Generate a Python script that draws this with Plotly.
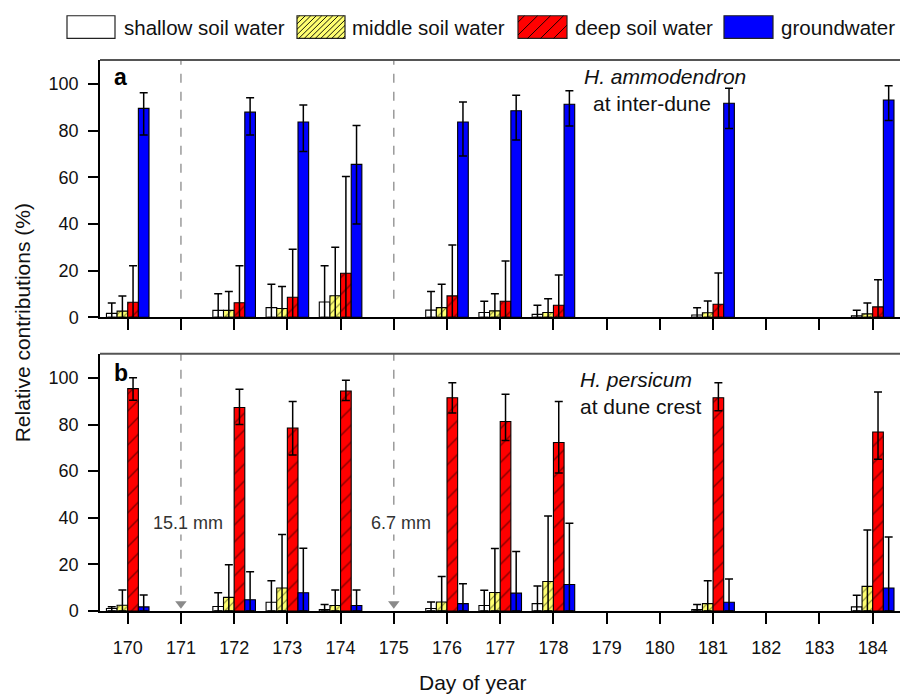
import plotly.graph_objects as go

# ---------------- data ----------------
days = [170, 172, 173, 174, 176, 177, 178, 181, 184]
tick_days = list(range(170, 185))
y_ticks = [0, 20, 40, 60, 80, 100]
sources = ["shallow soil water", "middle soil water", "deep soil water", "groundwater"]

# Panel a: H. ammodendron at inter-dune (mean, upper, lower bound)
a_shallow = [1.7, 3.0, 4.2, 6.6, 3.1, 2.1, 1.3, 1.0, 0.7]
a_shallow_hi = [6.2, 10.1, 14.2, 22.1, 11.1, 6.9, 5.2, 4.1, 3.1]
a_shallow_lo = [0, 0, 0, 0, 0, 0, 0, 0, 0]
a_middle = [2.7, 3.0, 3.8, 9.3, 4.2, 2.8, 2.1, 2.0, 1.5]
a_middle_hi = [9.2, 11.1, 13.2, 30.1, 14.2, 10.1, 8.0, 7.0, 6.2]
a_middle_lo = [0, 0, 0, 0, 0, 0, 0, 0, 0]
a_deep = [6.5, 6.3, 8.6, 18.9, 9.2, 6.9, 5.2, 5.6, 4.5]
a_deep_hi = [22.1, 22.1, 29.2, 60.4, 31.0, 24.2, 18.2, 19.0, 16.1]
a_deep_lo = [0, 0, 0, 0, 0, 0, 0, 0, 0]
a_gw = [89.6, 88.0, 83.8, 65.6, 83.8, 88.6, 91.4, 91.8, 93.2]
a_gw_hi = [96.3, 94.2, 91.1, 82.3, 92.3, 95.2, 97.2, 98.2, 99.3]
a_gw_lo = [78.2, 78.2, 71.1, 40.0, 69.2, 76.1, 82.0, 81.0, 84.4]

# Panel b: H. persicum at dune crest
b_shallow = [1.1, 2.0, 3.8, 0.7, 1.1, 2.4, 3.2, 0.7, 1.8]
b_shallow_hi = [1.9, 7.9, 13.0, 2.8, 3.9, 8.9, 10.8, 2.8, 6.8]
b_shallow_lo = [0, 0, 0, 0, 0, 0, 0, 0, 0]
b_middle = [2.5, 5.9, 9.9, 2.4, 3.9, 8.0, 12.7, 3.2, 10.6]
b_middle_hi = [9.0, 19.9, 32.8, 9.0, 14.8, 26.8, 40.8, 13.0, 34.8]
b_middle_lo = [0, 0, 0, 0, 0, 0, 0, 0, 0]
b_deep = [95.4, 87.3, 78.5, 94.4, 91.5, 81.3, 72.3, 91.5, 76.8]
b_deep_hi = [100.0, 95.1, 89.9, 99.0, 97.9, 93.0, 89.9, 97.9, 93.9]
b_deep_lo = [90.4, 80.0, 66.9, 90.3, 84.9, 73.2, 59.2, 85.9, 65.1]
b_gw = [1.8, 4.9, 7.9, 2.4, 3.2, 7.7, 11.4, 3.8, 9.9]
b_gw_hi = [6.9, 16.9, 26.9, 9.0, 11.7, 25.6, 37.7, 13.8, 31.8]
b_gw_lo = [0, 0, 0, 0, 0, 0, 0, 0, 0]

# Rain events
rain_days = [171, 175]
rain_labels = ["15.1 mm", "6.7 mm"]

# ---------------- style ----------------
W, H = 900, 697
FONT = "Liberation Sans, Arial, sans-serif"
YMAX = 110.3


def px(x):
    return x / W


def py(y):
    return 1 - y / H


styles = {
    "shallow soil water": dict(color="white", pattern=None),
    "middle soil water": dict(color="#FFFF70", pattern=dict(shape="/", fgcolor="black", size=6, solidity=0.18)),
    "deep soil water": dict(color="#FF0000", pattern=dict(shape="/", fgcolor="black", size=12, solidity=0.11)),
    "groundwater": dict(color="#0000FF", pattern=None),
}

panel_a = {
    "shallow soil water": (a_shallow, a_shallow_hi, a_shallow_lo),
    "middle soil water": (a_middle, a_middle_hi, a_middle_lo),
    "deep soil water": (a_deep, a_deep_hi, a_deep_lo),
    "groundwater": (a_gw, a_gw_hi, a_gw_lo),
}
panel_b = {
    "shallow soil water": (b_shallow, b_shallow_hi, b_shallow_lo),
    "middle soil water": (b_middle, b_middle_hi, b_middle_lo),
    "deep soil water": (b_deep, b_deep_hi, b_deep_lo),
    "groundwater": (b_gw, b_gw_hi, b_gw_lo),
}

fig = go.Figure()

for panel, xa, ya in [(panel_a, "x", "y"), (panel_b, "x2", "y2")]:
    for name in sources:
        v, hi, lo = panel[name]
        st = styles[name]
        marker = dict(color=st["color"], line=dict(color="black", width=1.1))
        if st["pattern"] is not None:
            marker["pattern"] = st["pattern"]
        fig.add_trace(go.Bar(
            x=days, y=v, name=name, xaxis=xa, yaxis=ya,
            marker=marker, showlegend=False,
            error_y=dict(type="data", symmetric=False,
                         array=[h - m for h, m in zip(hi, v)],
                         arrayminus=[m - l for m, l in zip(v, lo)],
                         color="black", thickness=1.5, width=4),
        ))

# rain triangles (panel b)
fig.add_trace(go.Scatter(
    x=rain_days, y=[3.2] * len(rain_days), xaxis="x2", yaxis="y2",
    mode="markers", marker=dict(symbol="triangle-down", size=10, color="#8a8a8a"),
    showlegend=False, hoverinfo="skip"))

shapes = []
annotations = []

# dashed rain lines
for d in rain_days:
    shapes.append(dict(type="line", xref="x", yref="y", x0=d, x1=d, y0=8, y1=YMAX,
                       line=dict(color="#9a9a9a", width=1.5, dash="dash"), layer="below"))
    shapes.append(dict(type="line", xref="x2", yref="y2", x0=d, x1=d, y0=7, y1=YMAX,
                       line=dict(color="#9a9a9a", width=1.5, dash="dash"), layer="below"))
for d, lab in zip(rain_days, rain_labels):
    annotations.append(dict(x=d, y=37.6, xref="x2", yref="y2", text=lab, showarrow=False,
                            xshift=7, bgcolor="white", font=dict(family=FONT, size=18, color="#333333")))

# top borders
for xr, yr in [("x domain", "y domain"), ("x2 domain", "y2 domain")]:
    shapes.append(dict(type="line", xref=xr, yref=yr, x0=0, x1=1, y0=1, y1=1,
                       line=dict(color="#555555", width=2)))

# panel labels & text
annotations += [
    dict(x=px(112), y=py(78), xref="paper", yref="paper", text="<b>a</b>", showarrow=False,
         xanchor="left", yanchor="middle", font=dict(family=FONT, size=23, color="black")),
    dict(x=px(112), y=py(378), xref="paper", yref="paper", text="<b>b</b>", showarrow=False,
         xanchor="left", yanchor="middle", font=dict(family=FONT, size=23, color="black")),
    dict(x=px(665), y=py(78), xref="paper", yref="paper", text="<i>H. ammodendron</i>", showarrow=False,
         xanchor="center", yanchor="middle", font=dict(family=FONT, size=21, color="#111")),
    dict(x=px(652), y=py(105), xref="paper", yref="paper", text="at inter-dune", showarrow=False,
         xanchor="center", yanchor="middle", font=dict(family=FONT, size=21, color="#111")),
    dict(x=px(578), y=py(385), xref="paper", yref="paper", text="<i>H. persicum</i>", showarrow=False,
         xanchor="left", yanchor="middle", font=dict(family=FONT, size=21, color="#111")),
    dict(x=px(578), y=py(412), xref="paper", yref="paper", text="at dune crest", showarrow=False,
         xanchor="left", yanchor="middle", font=dict(family=FONT, size=21, color="#111")),
    dict(x=px(22), y=py(328), xref="paper", yref="paper", text="Relative contributions (%)",
         showarrow=False, textangle=-90, xanchor="center", yanchor="middle",
         font=dict(family=FONT, size=21, color="#111")),
    dict(x=px(472), y=py(692), xref="paper", yref="paper", text="Day of year", showarrow=False,
         xanchor="center", yanchor="middle", font=dict(family=FONT, size=21, color="#111")),
]

# manual legend
legend_boxes = [(67, 115), (297, 345), (518, 567), (724, 773)]
legend_text_x = [122, 350, 573, 779]
ly0, ly1 = 16, 39
hatch_spacing = {"middle soil water": 5.5, "deep soil water": 13}
for name, (bx0, bx1), tx in zip(sources, legend_boxes, legend_text_x):
    st = styles[name]
    shapes.append(dict(type="rect", xref="paper", yref="paper", x0=px(bx0), x1=px(bx1),
                       y0=py(ly1), y1=py(ly0), fillcolor=st["color"],
                       line=dict(color="#222", width=1.2)))
    if name in hatch_spacing:
        s = hatch_spacing[name]
        c = bx0 + ly0 + s / 2
        path = ""
        while c < bx1 + ly1:
            xs = max(bx0, c - ly1)
            xe = min(bx1, c - ly0)
            if xe > xs:
                path += f"M{px(xs)},{py(c - xs)} L{px(xe)},{py(c - xe)} "
            c += s
        shapes.append(dict(type="path", xref="paper", yref="paper", path=path,
                           line=dict(color="black", width=0.9)))
    annotations.append(dict(x=px(tx), y=py(27.5), xref="paper", yref="paper", text=name,
                            showarrow=False, xanchor="left", yanchor="middle",
                            font=dict(family=FONT, size=20.5, color="#111")))

xcommon = dict(range=[169.479, 184.513], domain=[px(100), 1.0], tickvals=tick_days,
               ticks="outside", ticklen=11, tickwidth=1.5, tickcolor="black",
               showline=True, linecolor="black", linewidth=1.5, showgrid=False, zeroline=False,
               tickfont=dict(family=FONT, size=18, color="#111"))
ycommon = dict(range=[0, YMAX], tickvals=y_ticks, ticks="outside", ticklen=10, tickwidth=1.5,
               tickcolor="black", showline=True, linecolor="black", linewidth=1.5,
               showgrid=False, zeroline=False, tickfont=dict(family=FONT, size=18, color="#111"),
               ticklabelstandoff=6)

fig.update_layout(
    width=W, height=H,
    margin=dict(l=0, r=0, t=0, b=0),
    paper_bgcolor="white", plot_bgcolor="white",
    barmode="group", bargap=0.2, bargroupgap=0,
    xaxis=dict(**xcommon, anchor="y", showticklabels=False),
    xaxis2=dict(**xcommon, anchor="y2", showticklabels=True, ticklabelstandoff=9),
    yaxis=dict(**ycommon, domain=[py(322), py(61)], anchor="x"),
    yaxis2=dict(**ycommon, domain=[py(620), py(359)], anchor="x2"),
    shapes=shapes, annotations=annotations,
    font=dict(family=FONT),
)

fig.write_html("out.html")
